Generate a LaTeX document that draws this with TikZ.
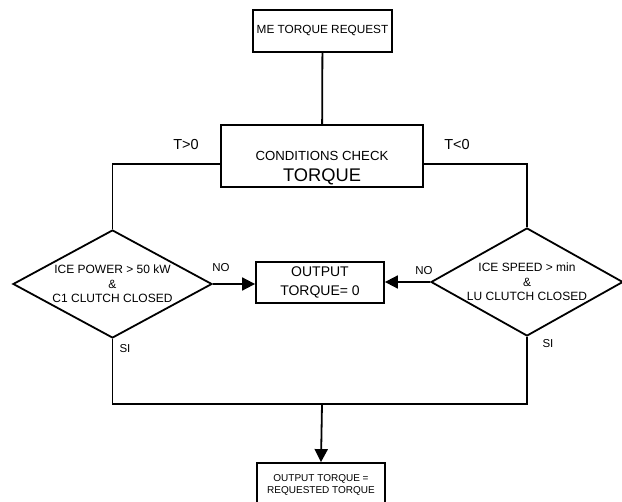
\documentclass[tikz,border=0pt]{standalone}
\usepackage{fontspec}
\setmainfont{Liberation Sans}
\usetikzlibrary{shapes.geometric,arrows.meta}
\begin{document}
\begin{tikzpicture}[x=1pt,y=-1pt,
  line width=1.8pt,
  box/.style={draw, rectangle, inner sep=0pt, align=center},
  dec/.style={draw, diamond, aspect=1.8, inner sep=0pt, align=center,
    font=\fontsize{12}{14.5}\selectfont},
  lbl/.style={inner sep=0pt},
  tip/.style={-{Triangle[length=13pt,width=13pt]}}]
\useasboundingbox (0,0) rectangle (622,502);
\clip (0,0) rectangle (622,502);
% nodes
\node[box, minimum width=139pt, minimum height=42pt,
  font=\fontsize{11.8}{14}\selectfont] (req) at (322.5,31) {ME TORQUE REQUEST};
\node[box, minimum width=202pt, minimum height=62pt] (cond) at (322,156) {};
\node[lbl, anchor=base, font=\fontsize{13.2}{15}\selectfont] (condtxt) at (322,160.7) {CONDITIONS CHECK};
\node[lbl, anchor=base, font=\fontsize{18.3}{20}\selectfont] (condtq) at (322,181.5) {TORQUE};
\node[dec, minimum width=199pt, minimum height=108pt] (ld) at (112.5,284)
  {ICE POWER > 50 kW\\\&\\C1 CLUTCH CLOSED};
\node[dec, minimum width=192pt, minimum height=108pt] (rd) at (527,282)
  {ICE SPEED > min\\\&\\LU CLUTCH CLOSED};
\node[box, minimum width=128pt, minimum height=41pt,
  font=\fontsize{14}{19}\selectfont] (out) at (320,282.5) {OUTPUT\\TORQUE= 0};
\node[box, minimum width=128pt, minimum height=44pt,
  font=\fontsize{10}{11.5}\selectfont] (fin) at (321,485) {OUTPUT TORQUE =\\REQUESTED TORQUE};
% labels
\node[lbl, font=\fontsize{14.5}{16}\selectfont] (tpos) at (186,145) {T>0};
\node[lbl, font=\fontsize{14.5}{16}\selectfont] (tneg) at (457,145) {T<0};
\node[lbl, font=\fontsize{11.5}{13}\selectfont] (nol) at (221,268) {NO};
\node[lbl, font=\fontsize{11.5}{13}\selectfont] (nor) at (424,271) {NO};
\node[lbl, font=\fontsize{11.5}{13}\selectfont] (sil) at (125,349) {SI};
\node[lbl, font=\fontsize{11.5}{13}\selectfont] (sir) at (548,344) {SI};
% connectors
\coordinate (join) at (322,404);
\draw (req) -- (cond);
\draw ([yshift=-8pt]cond.west) -| (ld.north);
\draw ([yshift=-8pt]cond.east) -| (rd.north);
\draw[tip] (ld.east) -- (ld.east -| out.west);
\draw[tip] (rd.west) -- (rd.west -| out.east);
\draw (ld.south) |- (join) -| (rd.south);
\draw[tip] (join) -- (fin.north);
\end{tikzpicture}
\end{document}
